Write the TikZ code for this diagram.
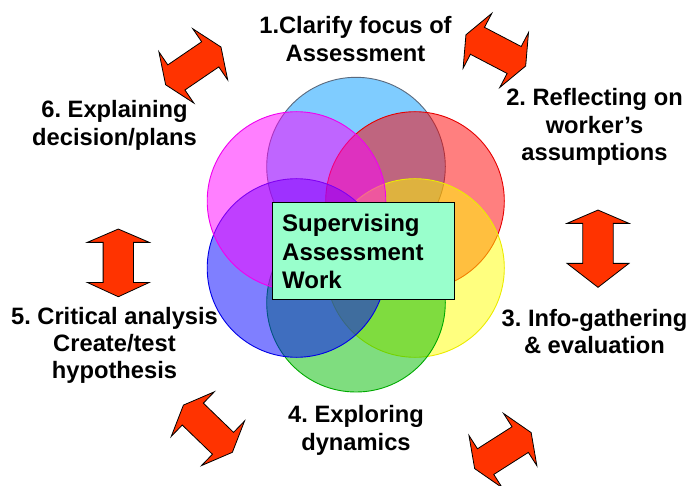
\documentclass[tikz,border=0pt]{standalone}
\usepackage{fontspec}
\setmainfont{Liberation Sans}
\frenchspacing
\definecolor{cafill}{RGB}{0,153,255}
\definecolor{caline}{RGB}{90,105,125}
\definecolor{cbfill}{RGB}{255,0,0}
\definecolor{cbline}{RGB}{230,0,0}
\definecolor{ccfill}{RGB}{255,255,0}
\definecolor{ccline}{RGB}{235,235,0}
\definecolor{cdfill}{RGB}{0,187,0}
\definecolor{cdline}{RGB}{0,170,0}
\definecolor{cefill}{RGB}{0,0,255}
\definecolor{celine}{RGB}{0,0,230}
\definecolor{cffill}{RGB}{255,0,255}
\definecolor{cfline}{RGB}{240,0,240}
\definecolor{boxfill}{RGB}{153,255,204}
\definecolor{arrowred}{RGB}{255,51,0}
\tikzset{
  ring/.style={circle, inner sep=0pt, minimum size=178.6pt, line width=0.9pt, fill opacity=0.5},
  corebox/.style={rectangle, draw=black, line width=1.1pt, fill=boxfill, inner sep=0pt},
  lbl/.style={inner sep=0pt, anchor=base},
  arrowfill/.style={fill=arrowred, draw=black, line width=0.8pt, line join=miter},
}
\newcommand\dblarr[6]{%
  \draw[arrowfill, shift={(#1,#2)}, rotate=#3]
    ({-#4},0) -- ({-#4+#5},-31) -- ({-#4+#5},-15.2) -- ({#4-#6},-15.2) -- ({#4-#6},-31)
    -- ({#4},0) -- ({#4-#6},31) -- ({#4-#6},15.2) -- ({-#4+#5},15.2) -- ({-#4+#5},31) -- cycle;}
\begin{document}
\begin{tikzpicture}[x=1pt,y=-1pt]
\useasboundingbox (0,0) rectangle (692,486);
% circles
\node[ring, fill=cafill, draw=caline] (c1) at (356,166.6) {};
\node[ring, fill=cbfill, draw=cbline] (c2) at (415,201) {};
\node[ring, fill=ccfill, draw=ccline] (c3) at (415,268) {};
\node[ring, fill=cdfill, draw=cdline] (c4) at (356,302.7) {};
\node[ring, fill=cefill, draw=celine] (c5) at (296.5,268) {};
\node[ring, fill=cffill, draw=cfline] (c6) at (296.5,201) {};
% centre box
\node[corebox, minimum width=182pt, minimum height=97pt] (core) at (363.7,250.8) {};
\node[anchor=base west, inner sep=0pt, font=\fontsize{24}{28.3}\selectfont\bfseries] (coretext) at (282,231.7)
  {\begin{tabular}[t]{@{}l@{}}Supervising\\Assessment\\Work\end{tabular}};
% labels
\node[lbl, font=\fontsize{23.7}{28.4}\selectfont\bfseries] (l1) at (355.5,33.3)
  {\begin{tabular}[t]{@{}c@{}}1.Clarify focus of\\Assessment\end{tabular}};
\node[lbl, font=\fontsize{23.7}{27.2}\selectfont\bfseries] (l2) at (594.5,106)
  {\begin{tabular}[t]{@{}c@{}}2. Reflecting on\\worker’s\\assumptions\end{tabular}};
\node[lbl, font=\fontsize{23.7}{27.2}\selectfont\bfseries] (l3) at (594.5,326)
  {\begin{tabular}[t]{@{}c@{}}3. Info-gathering\\\& evaluation\end{tabular}};
\node[lbl, font=\fontsize{23.7}{28}\selectfont\bfseries] (l4) at (356,422)
  {\begin{tabular}[t]{@{}c@{}}4. Exploring\\dynamics\end{tabular}};
\node[lbl, font=\fontsize{23.7}{27}\selectfont\bfseries] (l5) at (114.5,324.3)
  {\begin{tabular}[t]{@{}c@{}}5. Critical analysis\\Create/test\\hypothesis\end{tabular}};
\node[lbl, font=\fontsize{23.7}{28}\selectfont\bfseries] (l6) at (114.5,118)
  {\begin{tabular}[t]{@{}c@{}}6. Explaining\\decision/plans\end{tabular}};
% double arrows
\dblarr{193.3}{65.9}{34.3}{33.5}{13}{13}
\dblarr{495.8}{50.4}{-27.6}{33.7}{13}{13}
\dblarr{207.9}{428.7}{-44}{34}{13}{13}
\dblarr{502.9}{450.6}{32.5}{33.5}{13}{13}
\dblarr{118.3}{262.9}{-90}{33.85}{13.3}{14.3}
\dblarr{598}{248.7}{-90}{38.65}{13.3}{24}
\end{tikzpicture}
\end{document}
